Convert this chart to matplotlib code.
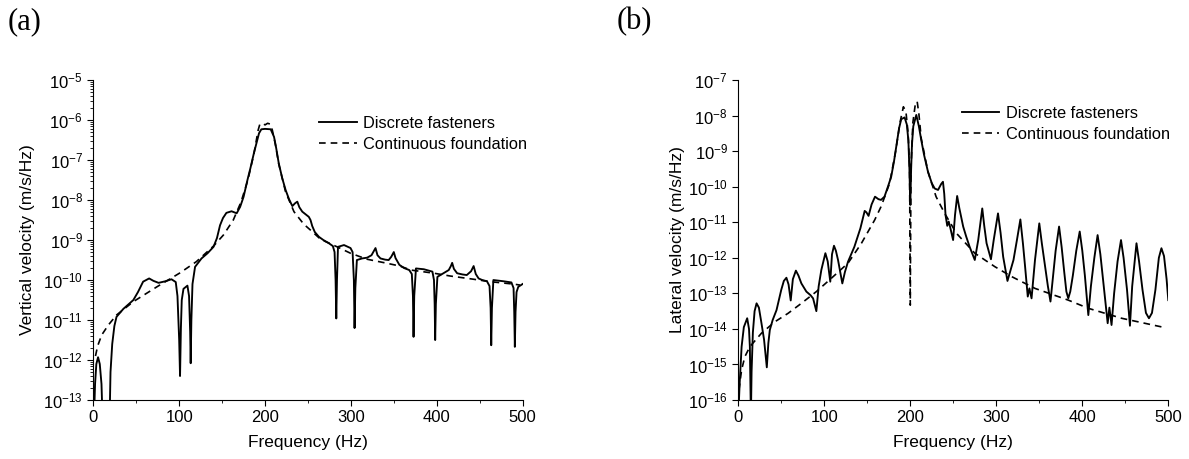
import numpy as np
import matplotlib
matplotlib.use("Agg")
import matplotlib.pyplot as plt

plt.rcParams['font.family'] = ['Liberation Sans', 'DejaVu Sans']
plt.rcParams['mathtext.default'] = 'regular'

# (a) vertical velocity, frequency in Hz and log10 of the value
vert_disc_f = [0, 2, 3.5, 5.5, 7.5, 9.5, 11.5, 18.5, 20, 22, 24.5, 27, 35, 46.6, 52, 58, 65, 70, 76, 84, 91,
               96, 98, 100, 101, 102, 103, 105, 109.6, 111.5, 112.8, 113.4, 114.2, 115.5, 118.5, 126, 133,
               140, 144, 147.6, 151, 155, 161, 167, 171, 175, 179.5, 183, 187, 193, 195.7, 200, 206.6,
               210.5, 213, 216, 220, 224, 228, 231.8, 235, 237.6, 240, 243.4, 247, 251, 253, 255, 258,
               262.8, 268, 274.4, 279, 281, 282.2, 283, 283.8, 285, 292, 299.6, 302, 303.5, 304.3, 305.2,
               307, 313, 319, 324, 328.7, 331, 334.5, 340, 344, 347, 350, 352, 356.5, 362, 368, 371, 372.3,
               373, 373.8, 375.8, 385, 395, 396.8, 397.6, 398.2, 399, 400.8, 408.5, 414, 416.5, 418, 420,
               423.8, 430, 435, 440, 443, 445.5, 448.8, 453, 458.5, 461.5, 462.8, 463.5, 464.3, 466, 477.7,
               487, 489.5, 490.3, 491, 491.8, 493, 495, 500]
vert_disc_exp = [-14, -12.6, -12.1, -11.93, -12.1, -12.6, -14, -14, -12.3, -11.6, -11.15, -10.92, -10.72,
                 -10.5, -10.3, -10.04, -9.96, -10.02, -10.07, -10.03, -9.98, -10.05, -10.4, -11.5, -12.4,
                 -11.2, -10.5, -10.22, -10.14, -10.4, -11.3, -12.08, -11.0, -10.1, -9.67, -9.46, -9.33,
                 -9.17, -8.95, -8.63, -8.45, -8.32, -8.28, -8.33, -8.17, -7.92, -7.5, -7.2, -6.83, -6.33,
                 -6.23, -6.22, -6.23, -6.42, -6.7, -7.08, -7.45, -7.75, -7.98, -8.15, -8.08, -8.04, -8.18,
                 -8.29, -8.35, -8.42, -8.5, -8.65, -8.8, -8.92, -9.0, -9.08, -9.15, -9.3, -10, -10.96, -10,
                 -9.17, -9.125, -9.2, -9.3, -10.0, -11.2, -10.2, -9.5, -9.46, -9.44, -9.38, -9.2, -9.38,
                 -9.46, -9.49, -9.5, -9.42, -9.3, -9.45, -9.62, -9.7, -9.75, -9.85, -10.4, -11.42, -10.4,
                 -9.71, -9.73, -9.79, -10.0, -10.6, -11.5, -10.6, -9.92, -9.82, -9.75, -9.65, -9.57, -9.72,
                 -9.83, -9.86, -9.875, -9.78, -9.65, -9.85, -9.96, -10.0, -10.03, -10.15, -10.7, -11.63,
                 -10.7, -10.0, -10.03, -10.06, -10.2, -10.8, -11.67, -10.8, -10.3, -10.17, -10.1]
vert_cont_f = [2.5, 5, 9.7, 17.5, 27, 46.6, 74, 101, 120, 140, 151.5, 163, 172, 180, 187, 192, 194, 197,
               200, 203, 206, 208.5, 212, 216, 224, 233.7, 245, 255, 264.7, 284, 299.6, 319, 342, 357, 370,
               397, 416, 443, 462, 489, 497]
vert_cont_exp = [-11.9, -11.65, -11.375, -11.125, -10.875, -10.54, -10.17, -9.82, -9.54, -9.15, -8.875,
                 -8.5, -8.05, -7.5, -6.85, -6.25, -6.1, -6.08, -6.12, -6.08, -6.1, -6.25, -6.6, -7.1, -7.8,
                 -8.29, -8.6, -8.79, -8.98, -9.17, -9.33, -9.48, -9.58, -9.65, -9.75, -9.83, -9.9, -9.98,
                 -10.04, -10.1, -10.125]

# (b) lateral velocity
lat_disc_f = [0, 1.5, 3.9, 6.5, 10.4, 12.5, 13.5, 14.7, 15.5, 17, 19, 21.3, 24, 27, 30, 33.2, 35, 36.7, 40,
              44.5, 50, 53, 56, 58.5, 61, 63.5, 67, 70, 73.4, 79.2, 84, 87, 90.8, 93.5, 96.6, 101.3, 104,
              107, 109, 111.3, 113.5, 116, 121, 124, 127.6, 135, 142, 147, 149, 151.5, 155, 159, 163, 166,
              170, 174, 177.8, 181, 183.7, 187, 189.5, 193.4, 196, 197.8, 199, 200, 201, 202, 203.5, 207,
              210, 212.8, 216, 220.6, 225, 228.4, 232.3, 236, 238, 239.5, 241, 243, 244.7, 246.5, 249.8,
              252, 254.5, 257, 261.5, 265, 269, 275, 279, 283.7, 286, 288.7, 293.8, 297, 302, 305, 308, 313,
              316, 320, 324, 328, 331, 333.5, 336.6, 338.5, 341, 343, 345, 350, 353, 356.8, 360, 363, 366,
              369, 373, 376, 379, 381.5, 383.7, 386, 389, 393, 397, 400, 403, 407, 410, 414, 417.8, 421,
              425, 429.5, 431.5, 434, 437, 441, 445, 448, 452, 455.4, 458, 463, 466, 470, 474, 477.5, 481,
              485, 489, 492, 495, 498, 500]
lat_disc_exp = [-16.5, -15.6, -14.5, -13.95, -13.7, -14.0, -14.5, -16.5, -15.2, -14.1, -13.5, -13.28, -13.4,
                -13.84, -14.3, -15.08, -14.4, -14.03, -13.75, -13.47, -12.9, -12.65, -12.56, -12.75, -13.2,
                -12.6, -12.36, -12.5, -12.72, -12.95, -13.05, -13.14, -13.5, -12.8, -12.34, -11.87, -12.1,
                -12.67, -11.9, -11.66, -11.8, -12.06, -12.72, -12.4, -12.11, -11.69, -11.17, -10.68, -10.72,
                -10.82, -10.5, -10.28, -10.35, -10.37, -10.28, -10.0, -9.72, -9.3, -8.87, -8.35, -8.1, -8.05,
                -8.25, -8.7, -9.5, -10.51, -9.5, -8.8, -8.3, -7.98, -8.3, -8.69, -9.1, -9.58, -9.9, -10.05,
                -10.09, -9.92, -9.86, -10.2, -10.8, -11.1, -10.98, -11.15, -11.5, -10.8, -10.26, -10.6,
                -11.12, -11.4, -11.69, -12.06, -11.5, -10.61, -11.1, -11.59, -12.04, -11.5, -10.75, -11.3,
                -11.97, -12.65, -12.4, -12.06, -11.5, -10.92, -11.6, -12.25, -13.09, -12.86, -13.14, -12.6,
                -12.06, -11.03, -11.6, -12.25, -12.8, -13.23, -12.5, -11.8, -11.12, -11.7, -12.4, -12.95,
                -13.14, -12.95, -12.5, -11.8, -11.26, -11.8, -12.5, -13.61, -12.8, -12.0, -11.36, -11.9,
                -12.8, -13.84, -13.4, -13.89, -13.0, -12.1, -11.5, -12.0, -12.9, -13.91, -12.8, -11.59,
                -12.1, -12.9, -13.55, -13.7, -13.55, -12.9, -12.0, -11.73, -11.95, -12.6, -13.19]
lat_cont_f = [0.8, 3.9, 7.7, 13.5, 27, 42.5, 58, 73.4, 90.8, 108, 127.6, 143, 158.5, 166, 170, 176, 183, 188,
              192, 195, 197.5, 199.2, 200, 200.8, 203, 206, 208, 210, 212.8, 220.6, 230, 240, 253.7, 275,
              298.4, 318, 345, 383.7, 407, 445.7, 493.5]
lat_cont_exp = [-15.72, -15.15, -14.78, -14.5, -14.12, -13.8, -13.56, -13.28, -12.95, -12.58, -12.15, -11.6,
                -10.94, -10.56, -10.3, -9.9, -9.0, -8.2, -7.75, -7.9, -8.5, -9.5, -13.33, -9.5, -8.2, -7.65,
                -7.6, -7.95, -8.65, -9.58, -10.28, -10.75, -11.31, -11.87, -12.25, -12.53, -12.86, -13.19,
                -13.42, -13.7, -13.95]

fig = plt.figure(figsize=(11.89, 4.59), dpi=100)
ax1 = fig.add_axes([0.0785, 0.1285, 0.361, 0.697])
ax2 = fig.add_axes([0.6209, 0.1285, 0.3617, 0.697])


def draw(ax, f1, e1, f2, e2, ylim, ylabel, legend_xy):
    ax.plot(f1, 10.0 ** np.array(e1), color='black', lw=1.35, label='Discrete fasteners')
    ax.plot(f2, 10.0 ** np.array(e2), color='black', lw=1.2, linestyle=(0, (4, 3)),
            label='Continuous foundation')
    ax.set_yscale('log')
    ax.set_xlim(0, 500)
    ax.set_ylim(*ylim)
    ax.set_xticks([0, 100, 200, 300, 400, 500])
    ax.set_xticks([50, 150, 250, 350, 450], minor=True)
    ax.set_yticks([10.0 ** k for k in range(int(np.log10(ylim[0])), int(np.log10(ylim[1])) + 1)])
    ax.spines['top'].set_visible(False)
    ax.spines['right'].set_visible(False)
    ax.tick_params(which='major', direction='out', length=4.5, width=0.8, labelsize=12, pad=3)
    ax.tick_params(which='minor', direction='out', length=2.5, width=0.6)
    ax.set_xlabel('Frequency (Hz)', fontsize=12.5)
    ax.set_ylabel(ylabel, fontsize=12.5)
    ax.xaxis.set_label_coords(0.5, -0.11)
    leg = ax.legend(loc='upper left', bbox_to_anchor=legend_xy, bbox_transform=fig.transFigure,
                    frameon=False, fontsize=11.8, handlelength=2.3, handletextpad=0.4,
                    labelspacing=0.4, borderpad=0, borderaxespad=0)
    return leg


draw(ax1, vert_disc_f, vert_disc_exp, vert_cont_f, vert_cont_exp, (1e-13, 1e-5),
     'Vertical velocity (m/s/Hz)', (0.2683, 0.748))
ax1.yaxis.set_label_coords(-0.135, 0.5)
draw(ax2, lat_disc_f, lat_disc_exp, lat_cont_f, lat_cont_exp, (1e-16, 1e-7),
     'Lateral velocity (m/s/Hz)', (0.8088, 0.77))
ax2.yaxis.set_label_coords(-0.124, 0.5)

fig.text(0.006, 0.953, '(a)', family='Liberation Serif', fontsize=22, va='center', ha='left')
fig.text(0.519, 0.953, '(b)', family='Liberation Serif', fontsize=22, va='center', ha='left')

fig.savefig('out.png', dpi=100)
